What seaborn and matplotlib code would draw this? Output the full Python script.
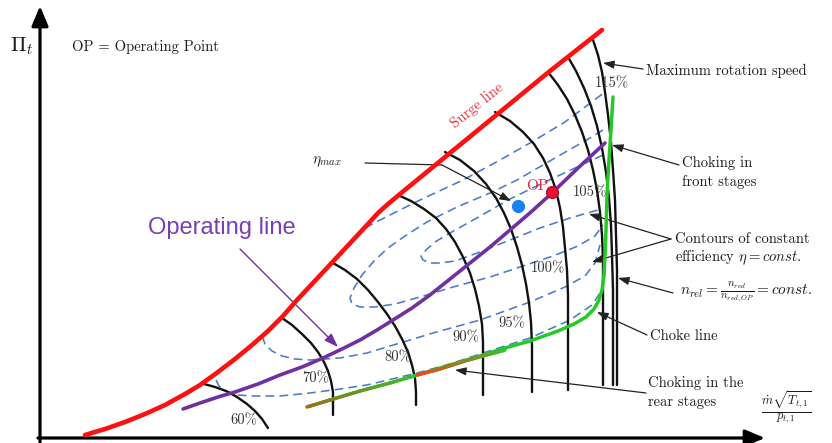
import numpy as np
import pandas as pd
import matplotlib
matplotlib.use("Agg")
import matplotlib.pyplot as plt
import seaborn as sns
from matplotlib.collections import LineCollection
from matplotlib.colors import to_rgb

# ---------------------------------------------------------------------------
# Compressor map, drawn in a canvas coordinate system (x right, y down)
# ---------------------------------------------------------------------------

# Surge line
surge_x = [85, 105, 125, 145, 165, 185, 200, 218, 235, 252, 268, 283, 297, 312, 326,
           340, 354, 367, 378, 388, 400, 450, 500, 550, 602]
surge_y = [435, 429, 422, 414, 405, 394, 385, 372, 359, 345, 331, 316, 300, 284, 269,
           254, 239, 225, 213, 204, 194, 153, 112, 71, 30]

# Lines of constant relative speed
speed_names = ["60%", "70%", "80%", "90%", "95%", "100%", "105%", "110%", "115%"]
speed_x = [
    [204, 215, 226, 237, 247, 255, 262, 268],
    [282, 292, 302, 311, 318, 324, 328, 331, 333, 333, 333],
    [333, 345, 357, 368, 378, 387, 395, 402, 408, 412, 415, 416, 416],
    [398, 411, 424, 436, 446, 455, 463, 470, 475, 479, 482, 483, 483, 483],
    [445, 460, 474, 486, 496, 504, 511, 517, 522, 526, 529, 531, 532, 532],
    [495, 510, 523, 534, 543, 550, 556, 560, 563, 565, 567, 568, 568, 568],
    [548, 558, 567, 575, 582, 588, 593, 597, 600, 602, 603, 603, 603],
    [568, 576, 584, 591, 597, 602, 606, 609, 611, 612, 613, 613],
    [593, 598, 602, 605, 608, 611, 613, 615, 616, 617, 617],
]
speed_y = [
    [384, 387, 391, 397, 404, 411, 419, 428],
    [318, 325, 334, 343, 352, 362, 371, 381, 392, 403, 415],
    [263, 270, 279, 290, 302, 314, 326, 339, 352, 365, 378, 392, 405],
    [195, 201, 209, 218, 229, 242, 257, 273, 289, 306, 324, 342, 362, 395],
    [152, 160, 171, 184, 198, 213, 229, 247, 265, 284, 303, 322, 345, 392],
    [112, 121, 132, 144, 158, 173, 190, 208, 227, 248, 270, 295, 330, 390],
    [72, 85, 99, 115, 132, 150, 170, 190, 212, 235, 260, 300, 385],
    [57, 71, 88, 106, 126, 148, 172, 198, 225, 255, 290, 385],
    [40, 55, 72, 92, 115, 142, 170, 200, 235, 270, 385],
]
speed_labels = ["60%", "70%", "80%", "90%", "95%", "100%", "105%", "115%"]

# Operating line
opline_x = [183, 200, 218, 235, 258, 280, 302, 323, 342, 360, 377, 393, 412, 430,
            450, 470, 490, 510, 531, 552, 578, 605]
opline_y = [409, 403, 397, 392, 384, 375, 367, 358, 349, 340, 330, 320, 308, 295,
            279, 263, 247, 230, 212, 193, 168, 143]

# Choke line
choke_x = [613, 611, 609, 607, 606, 605, 604, 602, 599, 594, 586, 574, 558, 530, 505,
           483, 450, 417]
choke_y = [97, 130, 160, 195, 230, 255, 275, 290, 300, 309, 317, 324, 331, 341, 348,
           355, 365, 375]

# Choking in the rear stages (two shaded stretches of the choke line)
rear_a_x = [307, 330, 360, 390, 417]
rear_a_y = [407, 400, 391, 383, 375]
rear_a_colors = ["#9a6e1a", "#2fc62f"]
rear_b_x = [417, 440, 465, 490, 505]
rear_b_y = [375, 369, 361, 354, 350]
rear_b_colors = ["#f0461c", "#2fc62f"]

# Efficiency contours (eta = const.)
eff_names = ["A", "B", "C", "D", "E"]
eff_x = [
    [603, 575, 545, 510, 475, 450, 435, 426, 421, 423, 430, 440, 455, 480, 510, 540,
     570, 598],
    [603, 590, 555, 517, 490, 457, 427, 405, 388, 374, 362, 354, 350, 352, 360, 375,
     395, 420, 453, 490, 520, 553, 578, 595, 603],
    [365, 380, 400, 420, 463, 500, 530, 565, 605],
    [262, 265, 272, 282, 295, 310, 340, 367, 400, 433, 480, 530, 565, 585, 595, 600],
    [216, 219, 226, 237, 255, 280, 310, 340, 367, 392, 417, 450, 483, 530, 570, 592,
     602, 605],
]
eff_y = [
    [155, 168, 182, 199, 219, 233, 242, 250, 256, 260, 263, 263, 261, 252, 240, 228,
     218, 210],
    [130, 138, 158, 180, 193, 207, 222, 236, 248, 261, 275, 288, 298, 304, 307, 307,
     304, 297, 287, 277, 267, 256, 246, 236, 225],
    [228, 220, 210, 200, 180, 160, 143, 122, 92],
    [336, 344, 351, 356, 359, 360, 358, 353, 343, 333, 320, 302, 287, 276, 263, 245],
    [380, 386, 391, 395, 396, 396, 393, 389, 385, 379, 373, 364, 353, 338, 320, 305,
     290, 270],
]

# Operating point and point of maximum efficiency
op_point = (552, 192)
eta_max_point = (518, 206)

# ---------------------------------------------------------------------------
# Layout of annotations
# ---------------------------------------------------------------------------
speed_label_pos = [(244, 420), (316, 378), (398, 357), (466, 337), (512, 323),
                   (548, 268), (590, 192), (612, 83)]

RED = "#ff1010"
PURPLE = "#7030a0"
GREEN = "#26c926"
BLUE = "#4a7cc4"
BLACK = "#111111"

sns.set_theme(style="white")
plt.rcParams["mathtext.fontset"] = "cm"
plt.rcParams["font.family"] = ["cmr10", "DejaVu Serif"]
plt.rcParams["axes.unicode_minus"] = False

fig = plt.figure(figsize=(8.32, 4.43), dpi=100)
ax = fig.add_axes([0, 0, 1, 1])
ax.set_xlim(0, 832)
ax.set_ylim(443, 0)
ax.axis("off")


def long_frame(names, xs, ys):
    rows = []
    for n, xx, yy in zip(names, xs, ys):
        for i, (a, b) in enumerate(zip(xx, yy)):
            rows.append({"curve": n, "order": i, "x": a, "y": b})
    return pd.DataFrame(rows)


# Efficiency contours
eff_df = long_frame(eff_names, eff_x, eff_y)
sns.lineplot(data=eff_df, x="x", y="y", units="curve", estimator=None, sort=False,
             color=BLUE, lw=1.15, linestyle=(0, (5.5, 3.2)), ax=ax, zorder=2)

# Speed lines
spd_df = long_frame(speed_names, speed_x, speed_y)
sns.lineplot(data=spd_df, x="x", y="y", units="curve", estimator=None, sort=False,
             color=BLACK, lw=1.7, ax=ax, zorder=3, solid_joinstyle="round")

# Choke line
sns.lineplot(x=choke_x, y=choke_y, sort=False, estimator=None, color=GREEN,
             lw=2.5, ax=ax, zorder=4, solid_joinstyle="round")


def gradient_line(xs, ys, colors, n=60):
    t = np.linspace(0, 1, len(xs))
    tt = np.linspace(0, 1, n)
    px = np.interp(tt, t, xs)
    py = np.interp(tt, t, ys)
    c0, c1 = np.array(to_rgb(colors[0])), np.array(to_rgb(colors[1]))
    segs = [[(px[i], py[i]), (px[i + 1], py[i + 1])] for i in range(n - 1)]
    cols = [tuple(c0 + (c1 - c0) * (i / (n - 2))) for i in range(n - 1)]
    lc = LineCollection(segs, colors=cols, linewidths=2.5, capstyle="round", zorder=4)
    ax.add_collection(lc)


gradient_line(rear_a_x, rear_a_y, rear_a_colors)
gradient_line(rear_b_x, rear_b_y, rear_b_colors)

# Operating line
sns.lineplot(x=opline_x, y=opline_y, sort=False, estimator=None, color=PURPLE,
             lw=2.6, ax=ax, zorder=5, solid_joinstyle="round")

# Surge line
sns.lineplot(x=surge_x, y=surge_y, sort=False, estimator=None, color=RED,
             lw=3.3, ax=ax, zorder=6, solid_joinstyle="round")

# Points
ax.plot(*eta_max_point, "o", ms=8.5, color="#1a82f0", zorder=7)
ax.plot(*op_point, "o", ms=8.5, color="#e8102e", mec="#b0102a", mew=1, zorder=7)

# Axes with arrow heads
axis_arrow = dict(arrowstyle="-|>,head_length=1.0,head_width=0.42", lw=2.3,
                  color="black", shrinkA=0, shrinkB=0)
ax.annotate("", xy=(40, 6), xytext=(40, 442), arrowprops=axis_arrow)
ax.annotate("", xy=(765, 438), xytext=(38, 438), arrowprops=axis_arrow)

thin = dict(arrowstyle="-|>,head_length=0.55,head_width=0.2", lw=0.9,
            color="#222222", shrinkA=0, shrinkB=0)

# Text
TXT = dict(fontsize=10.5, color="#1a1a1a")
ax.text(22, 46, r"$\Pi_t$", fontsize=15, ha="center", va="center", color="#1a1a1a")
ax.text(72, 47, "OP = Operating Point", ha="left", va="center", **TXT)

for lab, (lx, ly) in zip(speed_labels, speed_label_pos):
    ax.text(lx, ly, lab, ha="center", va="center", fontsize=10.5, color="#333333", zorder=8)

ax.text(477, 106, "Surge line", rotation=39, ha="center", va="center",
        fontsize=10.5, color="#e8303c", zorder=8)

ax.text(222, 228, "Operating line", family="Liberation Sans", fontsize=17,
        color="#7a3db8", ha="center", va="center")
ax.annotate("", xy=(338, 347), xytext=(240, 249),
            arrowprops=dict(arrowstyle="-|>,head_length=0.7,head_width=0.25", lw=1.0,
                            color=PURPLE, shrinkA=0, shrinkB=0))

ax.text(327, 162, r"$\eta_{max}$", ha="center", va="center", fontsize=11, color="#1a1a1a")
ax.plot([365, 442], [163, 165], color="#222222", lw=0.9)
ax.annotate("", xy=(511, 201), xytext=(442, 165), arrowprops=thin)

ax.text(537, 186, "OP", ha="center", va="center", fontsize=11, color="#e8203a", zorder=8)

ax.text(646, 71, "Maximum rotation speed", ha="left", va="center", **TXT)
ax.annotate("", xy=(603, 63), xytext=(643, 69), arrowprops=thin)

ax.text(682, 163, "Choking in", ha="left", va="center", **TXT)
ax.text(682, 182, "front stages", ha="left", va="center", **TXT)
ax.annotate("", xy=(612, 145), xytext=(679, 165), arrowprops=thin)

ax.text(675, 239, "Contours of constant", ha="left", va="center", **TXT)
ax.text(675, 258, r"efficiency $\eta = const.$", ha="left", va="center", **TXT)
ax.annotate("", xy=(589, 214), xytext=(671, 239), arrowprops=thin)
ax.annotate("", xy=(592, 262), xytext=(671, 239), arrowprops=thin)

ax.text(680, 292, r"$n_{rel} = \frac{n_{red}}{n_{red,OP}} = const.$", ha="left",
        va="center", fontsize=11, color="#1a1a1a")
ax.annotate("", xy=(618, 278), xytext=(673, 293), arrowprops=thin)

ax.text(650, 336, "Choke line", ha="left", va="center", **TXT)
ax.annotate("", xy=(597, 312), xytext=(647, 335), arrowprops=thin)

ax.text(648, 383, "Choking in the", ha="left", va="center", **TXT)
ax.text(648, 402, "rear stages", ha="left", va="center", **TXT)
ax.annotate("", xy=(455, 370), xytext=(646, 393), arrowprops=thin)

ax.text(786, 408, r"$\frac{\dot{m}\sqrt{T_{t,1}}}{p_{t,1}}$", ha="center", va="center",
        fontsize=13, color="#1a1a1a")

fig.savefig("out.png", dpi=100, facecolor="white")
